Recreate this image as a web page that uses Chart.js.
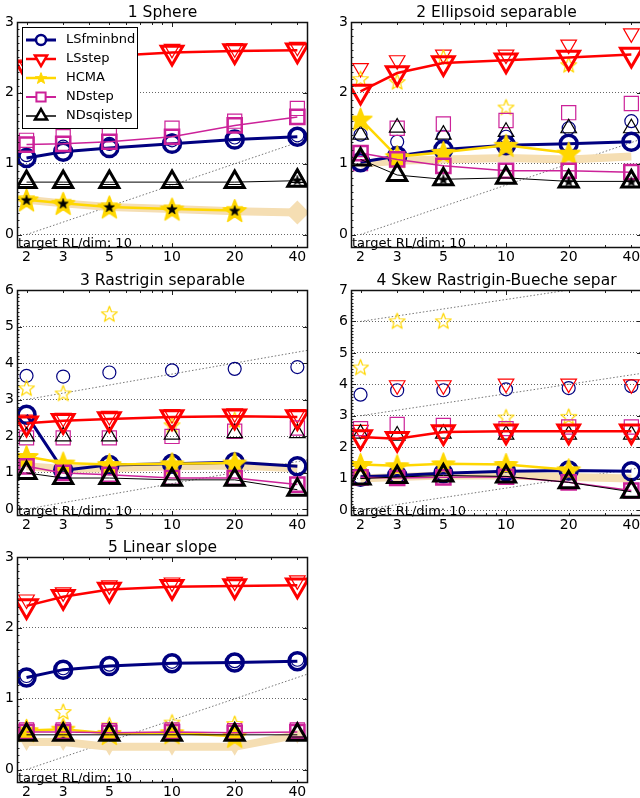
<!DOCTYPE html>
<html>
<head>
<meta charset="utf-8">
<title>ERT per dimension</title>
<script src="https://cdn.jsdelivr.net/npm/chart.js@4.4.1/dist/chart.umd.min.js"></script>
<style>
html, body { margin: 0; padding: 0; background: #fff; overflow: hidden; }
body { width: 640px; height: 798px; position: relative; }
.panel { position: absolute; }
canvas { display: block; }
</style>
</head>
<body>
<div class="panel" style="left:0px;top:0px"><canvas id="f1" width="320" height="266"></canvas></div>
<div class="panel" style="left:320px;top:0px"><canvas id="f2" width="322" height="266"></canvas></div>
<div class="panel" style="left:0px;top:266px"><canvas id="f3" width="320" height="266"></canvas></div>
<div class="panel" style="left:320px;top:266px"><canvas id="f4" width="322" height="266"></canvas></div>
<div class="panel" style="left:0px;top:532px"><canvas id="f5" width="320" height="266"></canvas></div>
<script>
// Data (log10 of ERT / dimension)

const dims = [2, 3, 5, 10, 20, 40];
const algs = ['LSfminbnd', 'LSstep', 'HCMA', 'NDstep', 'NDsqistep'];
const titles = ['1 Sphere', '2 Ellipsoid separable', '3 Rastrigin separable',
	'4 Skew Rastrigin-Bueche separ', '5 Linear slope'];
const targetText = 'target RL/dim: 10';

const yTicks3 = [0, 1, 2, 3];
const yTicks6 = [0, 1, 2, 3, 4, 5, 6];
const yTicks7 = [0, 1, 2, 3, 4, 5, 6, 7];

// dotted reference lines: from dim 2 to the right edge, one per offset
const refX = [2, 45];
const refY = [0, 1.35];
const refOffsets = [0, 3, 6];

// rows follow the algs order
const f1Med = [
	[1.08, 1.17, 1.22, 1.28, 1.34, 1.38],
	[2.35, 2.45, 2.52, 2.57, 2.59, 2.60],
	[0.49, 0.44, 0.39, 0.36, 0.34, null],
	[1.27, 1.28, 1.31, 1.38, 1.54, 1.66],
	[0.74, 0.74, 0.74, 0.74, 0.74, 0.76]
];
const f1Alt = [
	[1.12, 1.24, 1.28, 1.33, 1.37, 1.40],
	[2.40, 2.50, 2.56, 2.62, 2.63, 2.65],
	[0.52, 0.47, 0.42, 0.39, 0.37, null],
	[1.33, 1.38, 1.43, 1.50, 1.60, 1.78],
	[0.77, 0.77, 0.77, 0.77, 0.77, 0.80]
];
const f1Best = [0.49, 0.44, 0.39, 0.36, 0.33, 0.31];
const f1Marks = [0.49, 0.44, 0.39, 0.36, 0.34, 0.77];

const f2Med = [
	[1.02, 1.11, 1.20, 1.26, 1.28, 1.31],
	[2.02, 2.28, 2.42, 2.46, 2.50, 2.54],
	[1.63, 1.10, 1.16, 1.26, 1.15, null],
	[1.15, 1.06, 0.97, 0.90, 0.90, 0.88],
	[1.06, 0.84, 0.78, 0.80, 0.75, 0.75]
];
const f2Alt = [
	[1.41, 1.31, 1.38, 1.38, 1.50, 1.60],
	[2.35, 2.46, 2.54, 2.54, 2.68, 2.84],
	[2.20, 2.16, 2.50, 1.80, 2.40, null],
	[1.00, 1.50, 1.56, 1.61, 1.72, 1.85],
	[1.41, 1.51, 1.41, 1.45, 1.50, 1.50]
];
const f2Best = [1.00, 1.04, 1.06, 1.08, 1.06, 1.10];
const f2Marks = [null, null, 0.78, null, 0.75, 0.75];

const f3Med = [
	[2.58, 1.06, 1.21, 1.24, 1.28, 1.17],
	[2.35, 2.42, 2.47, 2.52, 2.54, 2.52],
	[1.44, 1.26, 1.22, 1.24, 1.26, null],
	[1.17, 0.99, 0.94, 0.85, 0.85, 0.67],
	[0.99, 0.85, 0.85, 0.80, 0.80, 0.53]
];
const f3Alt = [
	[3.65, 3.63, 3.74, 3.80, 3.84, 3.89],
	[2.45, 2.50, 2.55, 2.60, 2.62, 2.60],
	[3.32, 3.18, 5.35, 2.31, 2.45, null],
	[1.95, 1.95, 1.95, 1.99, 2.13, 2.22],
	[1.99, 1.99, 1.99, 2.04, 2.08, 2.08]
];
const f3Best = [1.17, 1.10, 1.12, 1.17, 1.19, 1.12];

const f4Med = [
	[1.06, 1.10, 1.17, 1.23, 1.26, 1.23],
	[2.32, 2.27, 2.48, 2.51, 2.51, 2.51],
	[1.45, 1.41, 1.47, 1.45, 1.28, null],
	[1.04, 1.02, 1.04, 1.06, 0.88, 0.62],
	[1.00, 1.05, 1.10, 1.07, 0.88, 0.58]
];
const f4Alt = [
	[3.67, 3.81, 3.81, 3.84, 3.88, 3.94],
	[2.55, 3.97, 3.97, 4.02, 4.02, 4.00],
	[4.55, 6.02, 6.02, 2.96, 2.98, null],
	[2.59, 2.72, 2.69, 2.59, 2.64, 2.64],
	[2.43, 2.37, 2.43, 2.40, 2.40, 2.40]
];
const f4Best = [1.00, 1.05, 1.10, 1.10, 1.05, 1.00];

const f5Med = [
	[1.30, 1.41, 1.46, 1.50, 1.51, 1.53],
	[2.31, 2.44, 2.54, 2.58, 2.59, 2.60],
	[0.55, 0.57, 0.51, 0.52, 0.47, null],
	[0.53, 0.53, 0.52, 0.53, 0.52, 0.53],
	[0.49, 0.49, 0.49, 0.49, 0.49, 0.49]
];
const f5Alt = [
	[1.32, 1.43, 1.48, 1.52, 1.53, 1.55],
	[2.40, 2.50, 2.60, 2.64, 2.65, 2.67],
	[0.60, 0.82, 0.63, 0.67, 0.65, null],
	[0.56, 0.56, 0.55, 0.56, 0.55, 0.56],
	[0.52, 0.52, 0.52, 0.52, 0.52, 0.52]
];
const f5Best = [0.39, 0.39, 0.32, 0.32, 0.32, 0.49];

// Styles

const font = 'DejaVu Sans';
Chart.defaults.font.family = font;

const colors = ['#000080', '#ff0000', '#ffd700', '#cc2299', '#000000'];
const lineWidths = [3, 2.5, 2.5, 1.5, 1];
const bandColor = '#f5deb3';

function star_img(size, fill, stroke, lw) {
	const c = document.createElement('canvas');
	c.width = size; c.height = size;
	const g = c.getContext('2d');
	const r = size / 2 - lw, ri = r * 0.42, cx = size / 2, cy = size / 2 + r * 0.1;
	g.beginPath();
	for (let i = 0; i < 10; i++) {
		const a = -Math.PI / 2 + i * Math.PI / 5;
		const rr = i % 2 ? ri : r;
		g.lineTo(cx + rr * Math.cos(a), cy + rr * Math.sin(a));
	}
	g.closePath();
	if (fill) { g.fillStyle = fill; g.fill(); }
	g.lineJoin = 'round';
	g.lineWidth = lw; g.strokeStyle = stroke; g.stroke();
	return c;
}

const starBig = star_img(27, '#ffd700', '#ffd700', 1.5);
const starHollow = star_img(19, null, '#ffd700', 1.2);
const starBlack = star_img(12, '#000', '#000', 0.5);
const starLegend = star_img(14, '#ffd700', '#ffd700', 1);

const bigMarks = [
	{style: 'circle', rot: 0, r: 8.5, bw: 3.5},
	{style: 'triangle', rot: 180, r: 12.5, bw: 3},
	{style: starBig, rot: 0, r: 12, bw: 0},
	{style: 'rect', rot: 0, r: 10, bw: 2.5},
	{style: 'triangle', rot: 0, r: 11, bw: 3}
];
const smallMarks = [
	{style: 'circle', rot: 0, r: 6.5, bw: 1.2},
	{style: 'triangle', rot: 180, r: 9, bw: 1.2},
	{style: starHollow, rot: 0, r: 8, bw: 0},
	{style: 'rect', rot: 0, r: 10, bw: 1.2},
	{style: 'triangle', rot: 0, r: 9, bw: 1.2}
];
const legendMarks = [
	{style: 'circle', rot: 0, r: 5, bw: 2.5},
	{style: 'triangle', rot: 180, r: 7, bw: 2.5},
	{style: starLegend, rot: 0, r: 6, bw: 0},
	{style: 'rect', rot: 0, r: 6.5, bw: 2},
	{style: 'triangle', rot: 0, r: 7, bw: 2.5}
];

function pts(vals) {
	return dims.map((d, i) => ({x: d, y: vals[i]}));
}

// Legend drawn inside panel 1

function draw_marker(ctx, m, x, y, color) {
	if (typeof m.style !== 'string') {
		ctx.drawImage(m.style, x - m.style.width / 2, y - m.style.height / 2);
		return;
	}
	ctx.save();
	ctx.translate(x, y);
	ctx.rotate(m.rot * Math.PI / 180);
	ctx.beginPath();
	if (m.style === 'circle') {
		ctx.arc(0, 0, m.r, 0, 2 * Math.PI);
	} else if (m.style === 'rect') {
		const s = m.r * Math.SQRT1_2;
		ctx.rect(-s, -s, 2 * s, 2 * s);
	} else {
		for (let i = 0; i < 3; i++) {
			const a = i * 2 * Math.PI / 3;
			ctx.lineTo(Math.sin(a) * m.r, -Math.cos(a) * m.r);
		}
		ctx.closePath();
	}
	ctx.fillStyle = '#fff';
	ctx.fill();
	ctx.lineWidth = m.bw;
	ctx.strokeStyle = color;
	ctx.stroke();
	ctx.restore();
}

function draw_legend(chart) {
	const ctx = chart.ctx, a = chart.chartArea;
	const x0 = a.left + 5, y0 = a.top + 5;
	ctx.save();
	ctx.fillStyle = '#fff';
	ctx.fillRect(x0, y0, 115, 101);
	ctx.strokeStyle = '#000';
	ctx.lineWidth = 1;
	ctx.strokeRect(x0 + 0.5, y0 + 0.5, 115, 101);
	algs.forEach(function(name, k) {
		const y = y0 + 13 + k * 19;
		ctx.strokeStyle = colors[k];
		ctx.lineWidth = lineWidths[k] + (k > 2 ? 0.5 : 0);
		ctx.beginPath();
		ctx.moveTo(x0 + 4, y);
		ctx.lineTo(x0 + 34, y);
		ctx.stroke();
		draw_marker(ctx, legendMarks[k], x0 + 19, y, colors[k]);
		ctx.fillStyle = '#000';
		ctx.font = '13px "' + font + '"';
		ctx.textBaseline = 'middle';
		ctx.textAlign = 'left';
		ctx.fillText(name, x0 + 44, y);
	});
	ctx.restore();
}

// Frame, inner ticks and target text

const xMinor = [2, 3, 4, 5, 6, 7, 8, 9, 10, 20, 30, 40];

const frame_plugin = {
	id: 'frame',
	afterDatasetsDraw(chart, args, opts) {
		if (opts.legend) draw_legend(chart);
	},
	afterDraw(chart) {
		const ctx = chart.ctx, a = chart.chartArea;
		const xs = chart.scales.x, ys = chart.scales.y;
		ctx.save();
		ctx.strokeStyle = '#222';
		ctx.lineWidth = 1;
		ctx.beginPath();
		xMinor.forEach(function(v) {
			const px = Math.round(xs.getPixelForValue(v)) + 0.5;
			const l = v === 10 ? 5 : 3;
			ctx.moveTo(px, a.bottom); ctx.lineTo(px, a.bottom - l);
			ctx.moveTo(px, a.top); ctx.lineTo(px, a.top + l);
		});
		ys.ticks.forEach(function(t) {
			const py = Math.round(ys.getPixelForValue(t.value)) + 0.5;
			ctx.moveTo(a.left, py); ctx.lineTo(a.left + 5, py);
			ctx.moveTo(a.right, py); ctx.lineTo(a.right - 5, py);
		});
		for (let v = 0.1; v < ys.max; v += 0.1) {
			const py = Math.round(ys.getPixelForValue(v)) + 0.5;
			ctx.moveTo(a.left, py); ctx.lineTo(a.left + 2.5, py);
		}
		ctx.stroke();
		ctx.lineWidth = 1.5;
		ctx.strokeStyle = '#111';
		ctx.strokeRect(Math.round(a.left) + 0.5, Math.round(a.top) + 0.5,
			Math.round(a.width) - 1, Math.round(a.height) - 1);
		ctx.fillStyle = '#000';
		ctx.font = '13px "' + font + '"';
		ctx.textBaseline = 'alphabetic';
		ctx.textAlign = 'left';
		ctx.fillText(targetText, a.left + 1, a.bottom - 1);
		ctx.restore();
	}
};

// Panels

function load_panel(id, n, med, alt, best, marks, yMax, yTicks, opt) {
	const sets = [];

	if (marks) {
		sets.push({
			data: pts(marks), showLine: false,
			pointStyle: starBlack, pointRadius: 5, pointBorderWidth: 0
		});
	}

	// medians with lines, top-most first
	[4, 3, 2, 1, 0].forEach(function(k) {
		const m = bigMarks[k];
		sets.push({
			data: pts(med[k]),
			borderColor: colors[k], borderWidth: lineWidths[k],
			pointStyle: m.style, pointRotation: m.rot, pointRadius: m.r,
			pointBorderWidth: m.bw, pointBorderColor: colors[k],
			pointBackgroundColor: 'rgba(255,255,255,0)'
		});
	});

	// second marker set, hollow and thin
	[4, 3, 2, 1, 0].forEach(function(k) {
		const m = smallMarks[k];
		sets.push({
			data: pts(alt[k]), showLine: false,
			pointStyle: m.style, pointRotation: m.rot, pointRadius: m.r,
			pointBorderWidth: m.bw, pointBorderColor: colors[k],
			pointBackgroundColor: 'rgba(255,255,255,0)'
		});
	});

	sets.push({
		data: pts(best),
		borderColor: bandColor, borderWidth: 8, borderCapStyle: 'butt',
		pointStyle: opt.bandStyle, pointRotation: opt.bandRot,
		pointRadius: opt.bandRadius, pointBackgroundColor: bandColor, pointBorderWidth: 0
	});

	refOffsets.forEach(function(o) {
		sets.push({
			data: refX.map((x, i) => ({x: x, y: o + refY[i]})),
			borderColor: '#666', borderWidth: 0.9, borderDash: [1.5, 2],
			pointRadius: 0
		});
	});

	new Chart(id, {
		type: 'line',
		data: {datasets: sets},
		plugins: [frame_plugin],
		options: {
			responsive: false,
			animation: false,
			events: [],
			layout: {autoPadding: false, padding: {left: 0, right: opt.padRight, top: 0, bottom: 0}},
			plugins: {
				legend: {display: false},
				tooltip: {enabled: false},
				frame: {legend: !!opt.legend},
				title: {
					display: true, text: titles[n - 1], fullSize: false, color: '#000',
					font: {size: 15.5, weight: 'normal', lineHeight: '18px'},
					padding: {top: opt.padTop, bottom: 0}
				}
			},
			scales: {
				x: {
					type: 'logarithmic', min: 1.8, max: 45,
					grid: {display: false, drawTicks: false, tickLength: 0},
					border: {display: false},
					afterBuildTicks: function(s) { s.ticks = dims.map(v => ({value: v})); },
					afterFit: function(s) {
						s.height = opt.xH;
						s.paddingLeft = 0; s.paddingRight = 0;
					},
					ticks: {
						autoSkip: false, maxRotation: 0, padding: 2, color: '#000',
						font: {size: 14, lineHeight: 1},
						callback: v => String(v)
					}
				},
				y: {
					type: 'linear', min: -0.19, max: yMax,
					afterBuildTicks: function(s) { s.ticks = yTicks.map(v => ({value: v})); },
					afterFit: function(s) {
						s.width = opt.yW;
						s.paddingTop = 0; s.paddingBottom = 0;
					},
					grid: {color: '#555', lineWidth: 0.9, drawTicks: false, tickLength: 0},
					border: {display: false, dash: [1, 2]},
					ticks: {padding: 3, color: '#000', font: {size: 14, lineHeight: 1}}
				}
			}
		}
	});
}

const leftOpt = {yW: 17, padRight: 12};
const rightOpt = {yW: 31, padRight: 0};

load_panel('f1', 1, f1Med, f1Alt, f1Best, f1Marks, 3, yTicks3,
	Object.assign({xH: 18, padTop: 4, legend: true, bandStyle: 'rectRot', bandRot: 0,
		bandRadius: [0, 0, 0, 0, 0, 12]}, leftOpt));
load_panel('f2', 2, f2Med, f2Alt, f2Best, f2Marks, 3, yTicks3,
	Object.assign({xH: 18, padTop: 4, bandStyle: 'circle', bandRot: 0, bandRadius: 0}, rightOpt));
load_panel('f3', 3, f3Med, f3Alt, f3Best, null, 6, yTicks6,
	Object.assign({xH: 16, padTop: 6, bandStyle: 'circle', bandRot: 0, bandRadius: 0}, leftOpt));
load_panel('f4', 4, f4Med, f4Alt, f4Best, null, 7, yTicks7,
	Object.assign({xH: 16, padTop: 6, bandStyle: 'circle', bandRot: 0, bandRadius: 0}, rightOpt));
load_panel('f5', 5, f5Med, f5Alt, f5Best, null, 3, yTicks3,
	Object.assign({xH: 15, padTop: 7, bandStyle: 'triangle', bandRot: 180, bandRadius: 9}, leftOpt));
</script>
</body>
</html>
